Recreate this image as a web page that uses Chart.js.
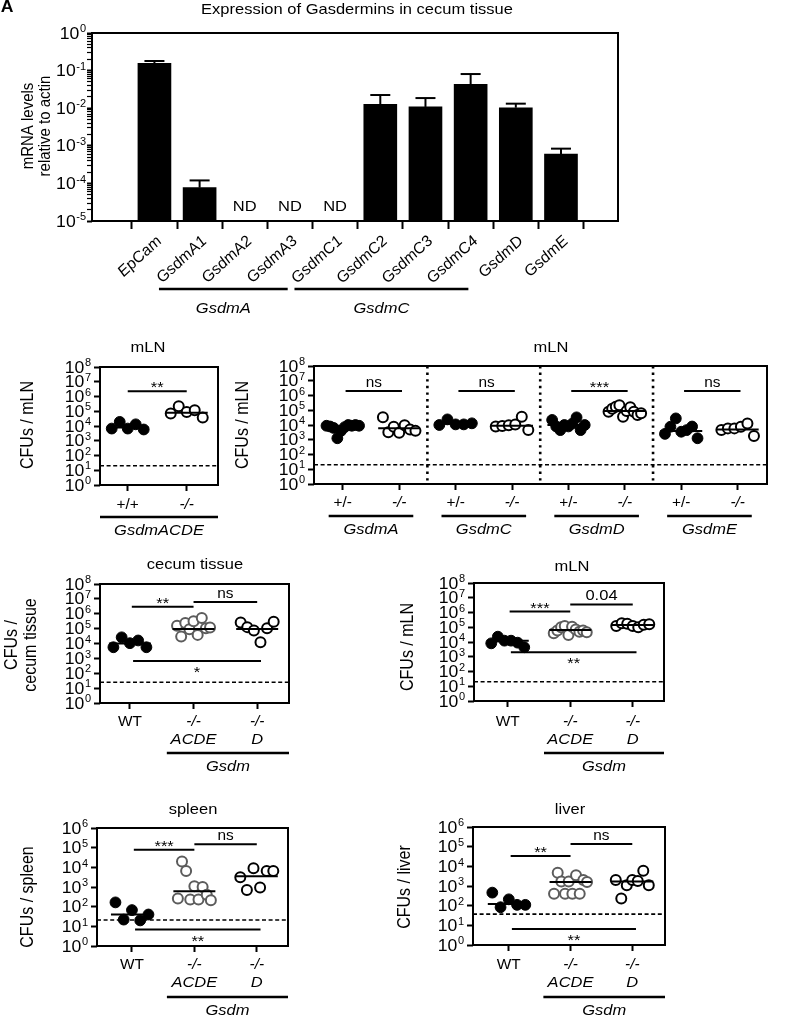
<!DOCTYPE html>
<html><head><meta charset="utf-8">
<script src="https://cdn.jsdelivr.net/npm/chart.js@4.4.1/dist/chart.umd.min.js"></script>
<style>
html,body{margin:0;padding:0;background:#fff;}
#wrap{position:relative;width:790px;height:1019px;overflow:hidden;background:#fff;}
#wrap canvas{position:absolute;left:0;top:0;}
</style></head>
<body><div id="wrap"></div>
<script>
// ================= DATA =================
// Panel A : mRNA expression
const figureLetter = 'A';
const mrnaTitle = 'Expression of Gasdermins in cecum tissue';
const mrnaYTitle = ['mRNA levels', 'relative to actin'];
const geneCategories = ['EpCam','GsdmA1','GsdmA2','GsdmA3','GsdmC1','GsdmC2','GsdmC3','GsdmC4','GsdmD','GsdmE'];
const mrnaMean     = [0.156, 7.7e-5, null, null, null, 0.0127, 0.0108, 0.0432, 0.0103, 6.0e-4];
const mrnaErrUpper = [0.18, 1.2e-4, null, null, null, 0.0224, 0.0186, 0.081, 0.0132, 8.4e-4];
const mrnaNDLabel = 'ND';
const mrnaFamilies = [{label:'GsdmA', first:'GsdmA1', last:'GsdmA3'}, {label:'GsdmC', first:'GsdmC1', last:'GsdmC4'}];
const mrnaTicks = [1e-5, 1e-4, 1e-3, 1e-2, 1e-1, 1];

// CFU tick sets
const cfuTicks8 = [1, 1e1, 1e2, 1e3, 1e4, 1e5, 1e6, 1e7, 1e8];
const cfuTicks6 = [1, 1e1, 1e2, 1e3, 1e4, 1e5, 1e6];

// Panel B : mLN, GsdmACDE
const acdeGenotypes = ['+/+', '-/-'];
const acdeFamily = 'GsdmACDE';
const mlnACDE_WT = [6700, 19000, 6700, 13000, 5800];
const mlnACDE_KO = [70000, 220000, 90000, 117000, 37000];
const mlnACDE_Median = [8000, 80000];
const mlnACDE_Sig = ['**'];
const mlnACDE_SigLevel = [2.3e6];

// Panel C : mLN, single knockouts
const singleGenes = ['GsdmA','GsdmC','GsdmD','GsdmE'];
const singleGenotypes = ['+/-', '-/-'];
const mlnGsdmA_Het = [8900, 7900, 6300, 1260, 4000, 7100, 10000, 8900, 10000, 8900];
const mlnGsdmA_KO  = [33000, 3200, 7600, 3000, 9500, 5000, 4000];
const mlnGsdmC_Het = [10000, 24000, 11000, 11000, 13000];
const mlnGsdmC_KO  = [7900, 8500, 9500, 11000, 36000, 4500];
const mlnGsdmD_Het = [22000, 8000, 4500, 10000, 8000, 12600, 33000, 4500, 10000];
const mlnGsdmD_KO  = [80000, 125000, 175000, 220000, 36000, 90000, 160000, 80000, 47000, 63000];
const mlnGsdmE_Het = [2500, 7600, 28000, 3500, 4500, 7900, 1260];
const mlnGsdmE_KO  = [4500, 5900, 5900, 7600, 12600, 1800];
const mlnSingle_Median = [8000, 6000, 12000, 9000, 10000, 90000, 3900, 5000];
const mlnSingle_Sig = ['ns', 'ns', '***', 'ns'];
const mlnSingle_SigLevel = [2e6, 2e6, 2e6, 2e6];

// Panels D-G : WT vs Gsdm-/- ACDE vs Gsdm-/- D
const cohortRow1 = ['WT', '-/-', '-/-'];
const cohortRow2 = ['', 'ACDE', 'D'];
const cohortFamily = 'Gsdm';

const cecum_WT   = [5600, 26000, 10500, 16000, 5600];
const cecum_ACDE = [155000, 29000, 235000, 90000, 310000, 38000, 510000, 107000, 120000];
const cecum_D    = [260000, 126000, 76000, 12000, 107000, 290000];
const cecum_Median = [10000, 93000, 93000];
const cecum_Sig = ['**', 'ns', '*'];
const cecum_SigLevel = [2.9e6, 6.2e6, 660];

const mln2_WT   = [8100, 23000, 12300, 12300, 9000, 4400];
const mln2_ACDE = [39000, 60000, 100000, 120000, 30000, 110000, 70000, 50000, 60000, 45000];
const mln2_D    = [120000, 185000, 170000, 120000, 100000, 150000, 160000];
const mln2_Median = [12000, 65000, 140000];
const mln2_Sig = ['***', '0.04', '**'];
const mln2_SigLevel = [1.15e6, 3.5e6, 2000];

const spleen_WT   = [165, 22, 67, 20, 40];
const spleen_ACDE = [260, 20000, 6500, 230, 1100, 230, 1000, 400, 210];
const spleen_D    = [3100, 700, 9100, 950, 6600, 6600];
const spleen_Median = [40, 600, 3500];
const spleen_Sig = ['***', 'ns', '**'];
const spleen_SigLevel = [78000, 150000, 6.9];

const liver_WT   = [460, 83, 210, 110, 110];
const liver_ACDE = [400, 4700, 1700, 400, 1700, 400, 3500, 400, 2000, 1600];
const liver_D    = [2000, 230, 1100, 2000, 1800, 5900, 1100];
const liver_Median = [120, 1600, 1700];
const liver_Sig = ['**', 'ns', '**'];
const liver_SigLevel = [34000, 138000, 6.5];

const lodMLN = 20, lodCecum = 25, lodSpleen = 21, lodLiver = 37;

// ================= RENDERING =================
const W = 790, H = 1019;
const SX = 1.1;
const FF = '"Liberation Sans", Arial, Helvetica, sans-serif';
const AXW = 10, AXH = 10;
const isPow10 = v => Math.abs(Math.log10(v) - Math.round(Math.log10(v))) < 1e-9;

function fontStr(size, style, weight) {
  return (style === 'italic' ? 'italic ' : '') + (weight === 'bold' ? 'bold ' : '') + Math.round(size) + 'px ' + FF;
}
function makeCanvas() {
  const c = document.createElement('canvas');
  c.width = W; c.height = H;
  c.style.width = W + 'px'; c.style.height = H + 'px';
  document.getElementById('wrap').appendChild(c);
  return c.getContext('2d');
}
function txt(ctx, s, x, y, o = {}) {
  ctx.save();
  ctx.translate(x, y);
  ctx.scale(SX, 1);
  if (o.rot) ctx.rotate(o.rot);
  ctx.font = fontStr(o.size || 15, o.style, o.weight);
  ctx.fillStyle = o.color || '#000';
  ctx.textAlign = o.align || 'center';
  ctx.textBaseline = o.baseline || 'middle';
  ctx.fillText(s, 0, 0);
  ctx.restore();
}
function powLabel(ctx, v, xr, y) {
  const e = String(Math.round(Math.log10(v)));
  ctx.save(); ctx.translate(xr, y); ctx.scale(SX, 1);
  ctx.fillStyle = '#000'; ctx.textBaseline = 'alphabetic'; ctx.textAlign = 'left';
  ctx.font = fontStr(16); const wb = ctx.measureText('10').width;
  ctx.font = fontStr(10); const we = ctx.measureText(e).width;
  ctx.font = fontStr(16); ctx.fillText('10', -(wb + we + 0.5), 5.6);
  ctx.font = fontStr(10); ctx.fillText(e, -we, -0.8);
  ctx.restore();
}
function hline(ctx, x1, x2, y, lw, dash) {
  ctx.save(); ctx.strokeStyle = '#000'; ctx.lineWidth = lw || 2;
  if (dash) ctx.setLineDash(dash);
  ctx.beginPath(); ctx.moveTo(x1, y); ctx.lineTo(x2, y); ctx.stroke(); ctx.restore();
}
function vline(ctx, x, y1, y2, lw, dash) {
  ctx.save(); ctx.strokeStyle = '#000'; ctx.lineWidth = lw || 2;
  if (dash) ctx.setLineDash(dash);
  ctx.beginPath(); ctx.moveTo(x, y1); ctx.lineTo(x, y2); ctx.stroke(); ctx.restore();
}
function frame(ctx, ca) {
  ctx.save(); ctx.strokeStyle = '#000'; ctx.lineWidth = 2;
  ctx.strokeRect(ca.left, ca.top, ca.right - ca.left, ca.bottom - ca.top); ctx.restore();
}
const common = {
  responsive: false, animation: false, events: [],
  plugins: { legend: { display: false }, tooltip: { enabled: false }, title: { display: false } }
};
function xScale(min, max, tickVals, tickLen) {
  return { type: 'linear', min, max,
    afterBuildTicks: s => { s.ticks = tickVals.map(v => ({ value: v })); },
    ticks: { display: false },
    grid: { display: true, drawOnChartArea: false, drawTicks: true, tickLength: tickLen, tickWidth: 2, tickColor: '#000', color: '#000' },
    border: { display: false },
    afterFit: s => { s.height = AXH; s.paddingLeft = 0; s.paddingRight = 0; } };
}
function yScale(ticksArr, withMinor) {
  return { type: 'logarithmic', min: ticksArr[0], max: ticksArr[ticksArr.length - 1],
    afterBuildTicks: s => {
      const t = [];
      ticksArr.forEach((v, k) => {
        t.push({ value: v });
        if (withMinor && k < ticksArr.length - 1) for (let m = 2; m <= 9; m++) t.push({ value: v * m });
      });
      s.ticks = t;
    },
    ticks: { display: false },
    grid: { display: true, drawOnChartArea: false, drawTicks: true, tickLength: withMinor ? 5 : 6,
      tickWidth: c => (c.tick && isPow10(c.tick.value)) ? 2 : 1.2, tickColor: '#000', color: '#000' },
    border: { display: false },
    afterFit: s => { s.width = AXW; s.paddingTop = 0; s.paddingBottom = 0; } };
}

// ---------- Panel A ----------
(function () {
  const L = 92, T = 33, R = 618, B = 221;
  const ctx = makeCanvas();
  const idx = geneCategories.map((c, i) => i);
  new Chart(ctx, {
    type: 'bar',
    data: { datasets: [{
      data: geneCategories.map((c, i) => ({ x: i, y: mrnaMean[i] })).filter(d => d.y !== null),
      backgroundColor: '#000', borderWidth: 0, barThickness: 33 }] },
    options: { ...common,
      layout: { padding: { left: L - AXW, top: T, right: W - R, bottom: H - B - AXH } },
      scales: { x: xScale(-0.8, 9.68, idx, 8), y: yScale(mrnaTicks, true) } },
    plugins: [{ id: 'decoA', afterDatasetsDraw(chart) {
      const c = chart.ctx, xs = chart.scales.x, ys = chart.scales.y, ca = chart.chartArea;
      geneCategories.forEach((g, i) => {
        if (mrnaMean[i] === null) return;
        const px = xs.getPixelForValue(i);
        const y0 = ys.getPixelForValue(mrnaMean[i]), y1 = ys.getPixelForValue(mrnaErrUpper[i]);
        vline(c, px, y0, y1, 2);
        hline(c, px - 10, px + 10, y1, 2);
      });
      frame(c, ca);
      geneCategories.forEach((g, i) => {
        if (mrnaMean[i] === null) txt(c, mrnaNDLabel, xs.getPixelForValue(i), ca.bottom - 14, { size: 15 });
      });
      mrnaTicks.forEach(v => powLabel(c, v, ca.left - 6, ys.getPixelForValue(v)));
      geneCategories.forEach((g, i) => {
        txt(c, g, xs.getPixelForValue(i) + 5, ca.bottom + 18, { rot: -Math.PI / 4, align: 'right', style: 'italic', size: 15 });
      });
      mrnaFamilies.forEach(f => {
        const a = xs.getPixelForValue(geneCategories.indexOf(f.first) - 0.9);
        const b = xs.getPixelForValue(geneCategories.indexOf(f.last) - 0.05);
        hline(c, a, b, 289, 2.5);
        txt(c, f.label, (a + b) / 2, 309, { style: 'italic', size: 15 });
      });
      txt(c, mrnaTitle, 357, 10, { size: 15 });
      txt(c, mrnaYTitle[0], 28, 126, { rot: -Math.PI / 2, size: 15 });
      txt(c, mrnaYTitle[1], 45, 126, { rot: -Math.PI / 2, size: 15 });
      txt(c, figureLetter, 7, 8, { size: 16, weight: 'bold' });
    } }]
  });
})();

// ---------- Dot panels ----------
const KIND = {
  filled: { fill: '#000', stroke: '#000', bw: 1, r: 5.4 },
  open:   { fill: '#fff', stroke: '#000', bw: 2, r: 5 },
  gray:   { fill: '#fff', stroke: '#5c5c5c', bw: 2, r: 5 }
};
function dotPanel(p) {
  const ctx = makeCanvas();
  const pxPerUnit = (p.R - p.L) / (p.xMax - p.xMin);
  const datasets = [];
  datasets.push({ type: 'scatter', data: p.medians.map((m, gi) => ({ x: gi, y: m })),
    pointStyle: 'line', pointRadius: 21, pointBorderColor: '#000', pointBorderWidth: 2, borderColor: '#000', order: 0 });
  p.groups.forEach((g, gi) => {
    const n = g.values.length, k = KIND[g.kind];
    datasets.push({ type: 'scatter',
      data: g.values.map((v, i) => ({ x: gi + (n > 1 ? (i / (n - 1) - 0.5) * p.spread / pxPerUnit : 0), y: v })),
      pointRadius: k.r, pointBackgroundColor: k.fill, pointBorderColor: k.stroke, pointBorderWidth: k.bw, order: 1 });
  });
  const xTicks = p.groups.map((g, i) => i);
  new Chart(ctx, {
    type: 'scatter',
    data: { datasets },
    options: { ...common,
      layout: { padding: { left: p.L - AXW, top: p.T, right: W - p.R, bottom: H - p.B - AXH } },
      scales: { x: xScale(p.xMin, p.xMax, xTicks, 6), y: yScale(p.yTicks, false) } },
    plugins: [{ id: 'deco' + p.id,
      beforeDatasetsDraw(chart) {
        const c = chart.ctx, xs = chart.scales.x, ys = chart.scales.y, ca = chart.chartArea;
        hline(c, ca.left, ca.right, ys.getPixelForValue(p.lod), 1.6, [4, 2.6]);
        (p.vseps || []).forEach(v => vline(c, xs.getPixelForValue(v), ca.top, ca.bottom, 2.6, [2.4, 4.2]));
      },
      afterDatasetsDraw(chart) {
        const c = chart.ctx, xs = chart.scales.x, ys = chart.scales.y, ca = chart.chartArea;
        frame(c, ca);
        p.yTicks.forEach(v => powLabel(c, v, ca.left - 9, ys.getPixelForValue(v)));
        p.rows.forEach((row, ri) => {
          row.forEach((s, i) => {
            if (!s) return;
            const it = !(s === 'WT' || s.startsWith('+'));
            txt(c, s, xs.getPixelForValue(i), p.rowY[ri], { size: ri === 0 ? 14 : 15, style: it ? 'italic' : 'normal' });
          });
        });
        p.families.forEach(f => {
          const a = xs.getPixelForValue(f.from), b = xs.getPixelForValue(f.to);
          hline(c, a, b, p.ulY, 2.5);
          txt(c, f.label, (a + b) / 2, p.ulY + 14, { size: 15, style: 'italic' });
        });
        p.sig.forEach(s => {
          const a = xs.getPixelForValue(s.x1), b = xs.getPixelForValue(s.x2), y = ys.getPixelForValue(s.v);
          hline(c, a, b, y, 2);
          const stars = /^\*+$/.test(s.t);
          let ty;
          if (s.below) ty = y + 16; else ty = stars ? y + 1 : y - 4;
          txt(c, s.t, (a + b) / 2, ty, { size: s.t === 'ns' ? 14 : 15, baseline: 'alphabetic' });
        });
        txt(c, p.title, p.titleX, p.titleY, { size: 15 });
        p.ylab.forEach((l, i) => txt(c, l, p.ylabX[i], p.ylabY, { rot: -Math.PI / 2, size: 16 }));
      } }]
  });
}

// Panel B
dotPanel({ id: 'B', L: 100, T: 367, R: 218, B: 485, xMin: -0.47, xMax: 1.53, yTicks: cfuTicks8, spread: 32,
  groups: [{ values: mlnACDE_WT, kind: 'filled' }, { values: mlnACDE_KO, kind: 'open' }],
  medians: mlnACDE_Median, lod: lodMLN,
  rows: [acdeGenotypes], rowY: [505], ulY: 517,
  families: [{ from: -0.47, to: 1.53, label: acdeFamily }],
  sig: [{ x1: 0, x2: 1.0, v: mlnACDE_SigLevel[0], t: mlnACDE_Sig[0] }],
  title: 'mLN', titleX: 148, titleY: 348, ylab: ['CFUs / mLN'], ylabX: [28], ylabY: 425 });

// Panel C
dotPanel({ id: 'C', L: 314, T: 366, R: 787, B: 484, xMin: -0.51, xMax: 7.52, yTicks: cfuTicks8, spread: 34,
  groups: [
    { values: mlnGsdmA_Het, kind: 'filled' }, { values: mlnGsdmA_KO, kind: 'open' },
    { values: mlnGsdmC_Het, kind: 'filled' }, { values: mlnGsdmC_KO, kind: 'open' },
    { values: mlnGsdmD_Het, kind: 'filled' }, { values: mlnGsdmD_KO, kind: 'open' },
    { values: mlnGsdmE_Het, kind: 'filled' }, { values: mlnGsdmE_KO, kind: 'open' }],
  medians: mlnSingle_Median, lod: lodMLN, vseps: [1.5, 3.5, 5.5],
  rows: [singleGenes.flatMap(() => singleGenotypes)], rowY: [503], ulY: 516,
  families: singleGenes.map((g, k) => ({ from: 2 * k - 0.25, to: 2 * k + 1.25, label: g })),
  sig: mlnSingle_Sig.map((t, k) => ({ x1: 2 * k + 0.05, x2: 2 * k + 1.05, v: mlnSingle_SigLevel[k], t })),
  title: 'mLN', titleX: 551, titleY: 348, ylab: ['CFUs / mLN'], ylabX: [243], ylabY: 425 });

function cohortGroups(a, b, c) {
  return [{ values: a, kind: 'filled' }, { values: b, kind: 'gray' }, { values: c, kind: 'open' }];
}
function cohortSig(texts, levels) {
  return [{ x1: 0.03, x2: 1.0, v: levels[0], t: texts[0] }, { x1: 1.0, x2: 2.0, v: levels[1], t: texts[1] },
          { x1: 0.05, x2: 2.06, v: levels[2], t: texts[2], below: true }];
}
dotPanel({ id: 'D', L: 100, T: 584, R: 289, B: 703, xMin: -0.47, xMax: 2.5, yTicks: cfuTicks8, spread: 33,
  groups: cohortGroups(cecum_WT, cecum_ACDE, cecum_D), medians: cecum_Median, lod: lodCecum,
  rows: [cohortRow1, cohortRow2], rowY: [722, 740], ulY: 753,
  families: [{ from: 0.58, to: 2.5, label: cohortFamily }],
  sig: cohortSig(cecum_Sig, cecum_SigLevel),
  title: 'cecum tissue', titleX: 195, titleY: 565, ylab: ['CFUs /', 'cecum tissue'], ylabX: [12, 31], ylabY: 645 });
dotPanel({ id: 'E', L: 474, T: 583, R: 664, B: 701, xMin: -0.54, xMax: 2.5, yTicks: cfuTicks8, spread: 33,
  groups: cohortGroups(mln2_WT, mln2_ACDE, mln2_D), medians: mln2_Median, lod: lodMLN,
  rows: [cohortRow1, cohortRow2], rowY: [722, 740], ulY: 753,
  families: [{ from: 0.58, to: 2.5, label: cohortFamily }],
  sig: cohortSig(mln2_Sig, mln2_SigLevel),
  title: 'mLN', titleX: 572, titleY: 567, ylab: ['CFUs / mLN'], ylabX: [408], ylabY: 647 });
dotPanel({ id: 'F', L: 97, T: 828, R: 288, B: 946, xMin: -0.56, xMax: 2.5, yTicks: cfuTicks6, spread: 33,
  groups: cohortGroups(spleen_WT, spleen_ACDE, spleen_D), medians: spleen_Median, lod: lodSpleen,
  rows: [cohortRow1, cohortRow2], rowY: [965, 983], ulY: 997,
  families: [{ from: 0.56, to: 2.5, label: cohortFamily }],
  sig: cohortSig(spleen_Sig, spleen_SigLevel),
  title: 'spleen', titleX: 193, titleY: 810, ylab: ['CFUs / spleen'], ylabX: [28], ylabY: 897 });
dotPanel({ id: 'G', L: 473, T: 827, R: 665, B: 945, xMin: -0.58, xMax: 2.53, yTicks: cfuTicks6, spread: 33,
  groups: cohortGroups(liver_WT, liver_ACDE, liver_D), medians: liver_Median, lod: lodLiver,
  rows: [cohortRow1, cohortRow2], rowY: [965, 983], ulY: 997,
  families: [{ from: 0.56, to: 2.53, label: cohortFamily }],
  sig: cohortSig(liver_Sig, liver_SigLevel),
  title: 'liver', titleX: 570, titleY: 810, ylab: ['CFUs / liver'], ylabX: [405], ylabY: 887 });
</script>
</body></html>
